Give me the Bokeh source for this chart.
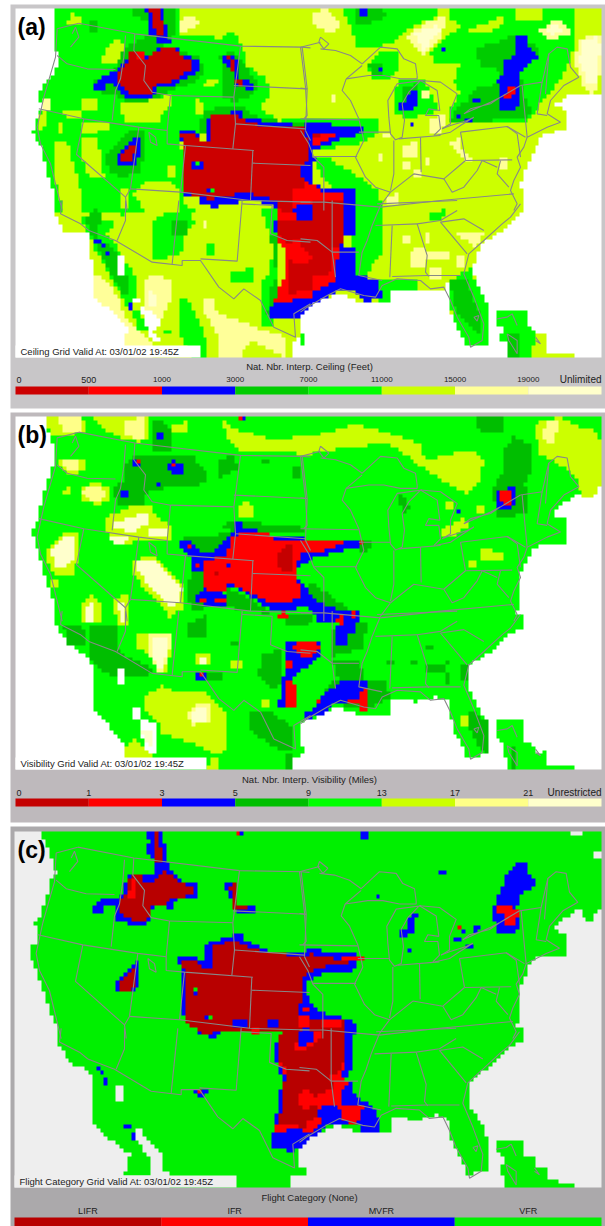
from bokeh.plotting import figure
from bokeh.embed import file_html
from bokeh.resources import INLINE
from bokeh.core.properties import value
from bokeh.models import Range1d
import numpy as np

# colour classes: 0 outside, 1..8 from lowest to highest class
COLORS = ["#FFFFFF", "#CC0000", "#FF0000", "#0000FF", "#00CC00", "#00FF00", "#CCFF00", "#FFFF99", "#FFFFCC"]
COLORS_B = ["#FFFFFF", "#C40000", "#FF0000", "#0000FF", "#00BE00", "#00FF00", "#CCFF00", "#FFFF88", "#FFFFCC"]
COLORS_C = ["#EEEEEE", "#B80000", "#FF0000", "#0000FF", "#00CC00", "#00F000", "#CCFF00", "#FFFF99", "#FFFFCC"]

# source frames for the digitised shapes: origin x, origin y, scale x, scale y
FRAMES = {"A1": (0, 0, 3, 3), "A2": (300, 0, 3, 3), "A3": (0, 200, 3, 3), "A4": (300, 200, 3, 3),
          "B1": (0, 410, 2.592, 3), "B2": (0, 615, 2.592, 3), "C1": (0, 825, 2.592, 3), "C2": (0, 1025, 2.592, 3)}

CEILING_REGIONS = [
 (6,"A1",[162,25,930,25,930,640,165,640,155,560,135,500,125,440,95,400,105,355,130,320,110,285,130,250,160,220,175,190,165,130]),
 (6,"A2",[0,25,905,25,905,270,890,285,800,285,755,320,795,325,795,390,730,400,690,470,660,550,675,640,0,640]),
 (6,"A3",[165,0,930,0,930,320,900,345,900,405,875,430,875,470,380,470,380,380,285,290,285,220,265,150,265,100,190,95,165,40]),
 (6,"A4",[0,0,675,0,660,40,600,95,540,130,515,205,540,270,565,320,565,380,550,430,500,440,500,410,465,370,445,320,445,240,430,270,350,270,270,275,270,310,190,310,135,285,80,290,20,320,0,340]),
 (6,"A4",[580,325,675,325,675,380,700,385,700,405,740,405,740,460,820,460,820,470,620,470,620,430,595,425,610,385,590,375]),
 (5,"A1",[162,25,535,25,535,100,640,110,650,125,690,85,720,130,735,160,735,190,800,235,805,290,780,320,830,360,930,355,930,380,620,380,590,400,540,395,555,640,165,640,155,560,135,500,125,440,95,400,105,355,130,320,110,285,130,250,160,220,175,190,165,130]),
 (5,"A2",[445,25,820,25,820,120,810,180,780,230,740,290,680,360,500,370,445,370,450,320,480,280,460,240,480,190,400,190,390,160,420,120,450,100,490,70,445,60]),
 (5,"A2",[125,25,405,25,405,50,330,80,290,120,240,140,170,140,150,80]),
 (5,"A2",[205,185,240,150,295,155,300,200,265,240,215,230,205,210]),
 (5,"A2",[290,240,375,235,385,275,420,320,380,345,330,350,280,345,280,310]),
 (5,"A2",[0,355,60,355,180,350,230,350,240,400,150,440,0,445]),
 (5,"A2",[40,470,90,470,125,500,180,530,230,570,240,630,150,630,60,520]),
 (5,"A3",[240,50,335,60,335,85,310,100,345,130,365,175,400,215,415,260,405,295,390,315,420,340,440,385,415,390,395,340,350,265,310,190,285,150,265,100]),
 (5,"A3",[190,0,250,0,250,30,190,30]),
 (5,"A3",[330,0,415,0,415,30,360,45]),
 (5,"A3",[460,60,500,30,560,30,580,65,550,110,540,165,460,180]),
 (5,"A3",[480,0,540,0,580,30,500,30]),
 (5,"A3",[620,130,645,130,645,165,620,165]),
 (5,"A3",[780,20,835,20,835,300,810,380,780,380,780,260,810,200,820,130]),
 (5,"A3",[690,210,755,205,765,245,690,245]),
 (5,"A3",[540,300,565,300,605,390,620,430,615,470,570,470,540,410]),
 (5,"A3",[485,390,510,390,510,405,485,405]),
 (5,"A3",[900,405,915,405,915,430,900,430]),
 (5,"A4",[150,0,250,0,250,160,210,190,200,240,150,220]),
 (5,"A4",[445,240,510,205,565,320,565,430,500,440,445,320]),
 (5,"A4",[230,240,310,230,350,235,350,270,230,275]),
 (5,"A4",[230,270,270,270,270,310,230,310]),
 (5,"A4",[580,325,675,325,675,380,700,385,700,405,715,405,715,430,690,430,690,470,620,470,620,430,595,425,610,385,590,375]),
 (5,"A4",[390,40,440,25,420,60,390,65]),
 (6,"A1",[300,190,300,170,345,115,365,115,370,150,355,190]),
 (6,"A1",[210,40,240,45,240,70,200,70]),
 (6,"A1",[240,300,295,300,295,325,240,325]),
 (6,"A1",[365,310,510,285,515,310,470,365,375,365,365,340]),
 (6,"A1",[190,325,260,340,240,355,190,345]),
 (6,"A1",[250,365,330,370,320,390,250,400]),
 (6,"A1",[115,350,135,330,135,380,115,400]),
 (6,"A1",[240,410,290,410,300,470,310,530,265,530,240,450]),
 (6,"A1",[170,365,190,365,190,395,170,395]),
 (6,"A1",[160,420,200,430,225,510,240,570,240,640,190,640,165,540]),
 (6,"A1",[440,540,500,540,540,575,540,640,440,640,400,580]),
 (6,"A1",[500,490,525,490,525,535,500,535]),
 (6,"A1",[365,565,385,565,385,620,365,620]),
 (6,"A1",[580,290,600,290,605,345,580,345]),
 (6,"A1",[620,240,650,240,640,260,600,260]),
 (6,"A2",[500,90,560,65,610,45,620,60,560,100,500,100]),
 (6,"A2",[650,25,730,25,730,60,650,60]),
 (7,"A1",[540,60,570,45,600,60,570,85,540,95]),
 (7,"A1",[130,300,145,300,145,325,130,325]),
 (7,"A2",[30,40,70,25,105,45,120,70,100,100,70,90,30,60]),
 (7,"A2",[310,110,370,70,425,45,435,70,420,110,370,165,340,140]),
 (7,"A2",[720,90,760,50,810,85,800,110,740,115]),
 (7,"A2",[835,120,880,100,905,110,905,200,880,285,855,265,820,190]),
 (7,"A2",[385,365,415,340,435,350,425,390,400,405,385,390]),
 (7,"A2",[300,440,350,420,355,470,300,470]),
 (7,"A2",[450,430,480,415,485,440,515,480,490,480,465,450]),
 (7,"A2",[100,285,108,285,108,310,95,310]),
 (7,"A2",[230,460,245,460,245,485,230,485]),
 (7,"A2",[310,485,325,485,325,510,310,510]),
 (7,"A2",[380,470,390,470,390,500,380,500]),
 (7,"A2",[340,505,365,510,360,525,340,525]),
 (7,"A2",[255,590,295,580,290,610,255,610]),
 (7,"A2",[600,475,625,475,625,510,600,510]),
 (7,"A2",[365,270,385,270,385,290,365,290]),
 (7,"A2",[245,405,270,400,270,415,245,415]),
 (7,"A3",[430,250,445,220,510,235,510,300,490,350,440,350,430,310]),
 (7,"A3",[282,220,300,220,350,285,380,360,420,400,450,430,460,470,375,470,380,380,285,290]),
 (7,"A3",[605,290,645,290,650,340,720,360,780,385,850,410,850,470,750,420,720,470,650,470,650,400,610,330]),
 (7,"A3",[605,60,620,60,620,85,605,85]),
 (7,"A4",[300,110,325,110,325,135,300,135]),
 (7,"A4",[330,150,370,140,370,205,325,205]),
 (7,"A4",[380,155,450,155,440,180,380,180]),
 (7,"A4",[470,90,560,90,520,145,500,115,470,110]),
 (7,"A4",[385,205,420,205,420,235,385,235]),
 (7,"A4",[380,100,390,100,390,125,380,125]),
 (7,"A4",[470,160,495,160,490,200,465,200]),
 (8,"A2",[340,100,410,70,420,90,370,150]),
 (8,"A2",[845,125,885,110,900,130,890,240,865,250,835,180]),
 (8,"A2",[740,85,770,70,790,90,750,105]),
 (8,"A3",[445,275,470,285,465,320,445,320]),
 (4,"A1",[370,150,400,125,470,100,480,130,590,170,610,200,600,235,520,270,470,290,440,305,390,305,340,285,310,280,280,270,280,240,340,210]),
 (4,"A1",[400,25,530,25,530,100,500,130,440,130,440,60,400,45]),
 (4,"A1",[265,65,295,60,295,95,265,95]),
 (4,"A1",[660,170,690,150,725,180,770,240,770,270,750,290,700,305,665,290,665,230]),
 (4,"A1",[310,470,400,385,430,385,430,460,420,510,370,530,330,520]),
 (4,"A1",[600,350,620,325,730,320,760,345,830,360,930,370,930,395,600,395]),
 (4,"A2",[160,25,250,25,255,50,200,70,160,70]),
 (4,"A2",[205,190,245,185,245,225,210,225]),
 (4,"A2",[300,265,350,250,350,320,300,330]),
 (4,"A2",[450,360,460,330,500,300,530,265,590,250,600,210,540,195,525,140,590,130,650,100,690,130,720,140,700,180,660,210,670,290,700,340,650,355,560,360,500,365]),
 (4,"A3",[255,60,290,25,310,60,285,90,300,130,340,140,350,180,385,230,390,280,370,290,330,220,300,165]),
 (4,"A3",[510,60,565,60,565,110,510,110]),
 (4,"A3",[810,110,835,110,835,320,800,340,810,270,830,230]),
 (4,"A4",[445,240,500,230,515,290,540,345,540,410,505,375,465,330]),
 (4,"A4",[620,395,650,395,660,470,620,470]),
 (6,"A4",[700,405,740,405,740,455,820,460,820,470,700,470]),
 (3,"A1",[345,215,380,170,385,150,430,150,435,170,480,140,530,140,540,160,580,175,595,185,590,218,550,235,525,245,520,258,465,260,460,285,440,300,390,297,360,285,350,260,340,255,310,245,310,270,282,270,282,245,310,220]),
 (3,"A1",[435,25,495,25,495,70,510,130,465,130,460,105,445,100,445,50]),
 (3,"A1",[672,165,700,165,712,190,712,230,765,250,765,268,700,262,695,210,672,190]),
 (3,"A1",[350,460,405,405,418,410,415,470,400,500,350,500]),
 (3,"A1",[535,395,580,392,600,420,615,420,615,350,680,340,695,325,722,325,725,350,765,350,790,365,930,375,930,640,850,640,800,610,740,600,650,620,640,620,600,610,590,590,550,585,550,435,535,420]),
 (3,"A2",[180,25,205,25,205,45,180,45]),
 (3,"A2",[418,138,432,138,432,152,418,152]),
 (3,"A2",[228,208,245,205,245,218,228,218]),
 (3,"A2",[325,268,350,270,350,312,335,325,298,325,298,312,320,312]),
 (3,"A2",[515,300,540,300,540,312,515,312]),
 (3,"A2",[472,338,485,338,485,352,472,352]),
 (3,"A2",[498,352,515,352,515,365,498,365]),
 (3,"A2",[325,365,338,365,338,378,325,378]),
 (3,"A2",[608,180,645,165,645,110,675,110,675,135,712,170,660,210,660,250,655,320,625,335,595,325,592,240,610,215]),
 (3,"A2",[25,365,185,380,185,400,110,420,80,435,50,445,0,430,0,380]),
 (3,"A2",[0,470,45,470,25,540,75,565,160,570,160,630,0,630]),
 (3,"A3",[820,60,850,60,850,290,930,290,930,320,900,350,810,350,810,320,825,295,835,270,850,230,850,130,835,130,835,100,820,100]),
 (3,"A4",[0,0,160,0,160,110,135,110,135,140,160,140,160,220,230,240,250,290,210,300,200,315,190,300,160,270,120,270,80,290,30,310,10,335,0,340]),
 (2,"A2",[610,295,620,265,645,258,645,280,630,298]),
 (2,"A2",[20,395,65,395,70,405,105,405,105,415,70,420,50,440,30,430]),
 (2,"A2",[150,395,160,395,160,405,150,405]),
 (2,"A2",[0,540,50,560,70,580,135,580,135,630,0,630]),
 (2,"A3",[835,20,930,0,930,290,820,310,830,270,850,230,850,140,835,130]),
 (2,"A4",[0,0,135,0,135,70,120,70,120,140,110,180,105,240,70,260,40,270,0,290]),
 (1,"A1",[350,220,385,185,385,155,430,155,435,175,480,145,525,145,540,165,575,180,578,215,545,218,525,240,500,245,465,245,450,285,400,285,360,260]),
 (2,"A1",[405,150,430,150,430,180,405,180]),
 (1,"A1",[445,25,475,25,485,60,495,110,465,110,458,60]),
 (1,"A1",[680,170,700,175,705,235,750,250,715,255,705,240,690,190]),
 (1,"A1",[362,462,400,425,405,440,400,485,365,485]),
 (1,"A1",[620,350,660,340,710,345,740,365,790,375,915,380,915,640,850,640,800,590,740,580,650,590,640,600,600,590,550,575,550,435,540,395,580,400,600,420,630,420,630,350]),
 (2,"A1",[875,570,915,570,915,640,875,640]),
 (3,"A1",[900,500,930,500,930,535,900,535]),
 (3,"A1",[915,385,930,385,930,460,915,460]),
 (3,"A1",[575,485,605,485,605,510,575,510]),
 (5,"A1",[580,487,592,487,592,500,580,500]),
 (3,"A1",[618,563,632,563,632,580,618,580]),
 (3,"A1",[700,578,740,578,740,592,700,592]),
 (5,"A1",[632,565,645,565,645,578,632,578]),
 (1,"A3",[835,60,930,60,930,120,860,125,835,100]),
 (1,"A3",[860,180,930,190,930,270,870,280]),
 (3,"A3",[880,20,930,10,930,55,890,55]),
 (1,"A4",[40,0,135,0,125,130,90,150,95,210,60,230,25,220,30,170,0,130,0,60,40,50]),
 (3,"A4",[0,10,40,10,40,55,0,55]),
 (3,"A3",[820,0,835,0,835,20,820,20]),
 (1,"A2",[0,380,15,400,30,480,0,490]),
 (1,"A2",[30,395,60,395,60,415,30,415]),
 (0,"A3",[350,165,375,165,375,220,350,220]),
 (0,"A3",[400,290,415,290,415,310,400,310]),
 (0,"A3",[415,315,470,345,480,370,460,390,460,405,485,425,460,430,440,390,430,350,415,335]),
 (3,"A3",[285,115,298,115,298,128,285,128]),
 (3,"A3",[298,128,310,128,310,138,298,138]),
 (3,"A3",[310,155,322,155,322,165,310,165]),
 (3,"A3",[390,312,402,312,402,325,390,325]),
]

VISIBILITY_REGIONS = [
 (5,"B1",[115,18,1560,18,1560,210,1535,268,1510,268,1500,240,1430,310,1465,325,1465,400,1380,410,1345,490,1345,570,1335,630,145,630,135,560,115,500,100,430,80,365,95,330,105,285,120,220,135,165,145,140,125,65]),
 (5,"B2",[145,0,1360,0,1360,30,1320,60,1270,110,1215,150,1215,220,1240,280,1265,320,1265,410,1210,435,1205,400,1170,340,1165,260,1130,245,1080,260,1010,250,1010,300,975,300,945,300,870,275,830,300,790,315,775,340,775,395,790,400,790,420,755,425,755,462,325,462,330,400,245,285,245,170,225,125,165,70,145,30]),
 (5,"B2",[1280,315,1360,315,1360,380,1385,395,1385,425,1420,400,1420,450,1485,450,1485,462,1310,462,1310,430,1300,380,1280,350]),
 (6,"B1",[575,30,620,60,700,85,800,80,880,55,925,40,980,60,1060,90,1090,100,1100,150,1180,125,1230,120,1255,150,1240,210,1210,250,1150,215,1100,175,1040,125,1000,100,900,110,800,130,700,125,620,120,590,85]),
 (6,"B1",[1385,40,1450,18,1480,40,1540,60,1560,100,1560,210,1535,268,1510,268,1490,200,1445,160,1395,130]),
 (6,"B1",[115,18,215,18,220,60,170,80,130,70]),
 (6,"B1",[240,18,380,18,385,80,360,95,320,90,250,40]),
 (6,"B1",[445,40,480,35,480,65,445,65]),
 (6,"B1",[205,235,240,215,280,230,280,270,250,285,215,270]),
 (6,"B1",[155,150,215,140,220,180,180,195,155,170]),
 (6,"B1",[165,235,185,230,185,255,165,255]),
 (6,"B1",[245,165,255,165,255,175,245,175]),
 (6,"B1",[270,320,340,290,385,285,415,330,440,340,440,385,365,385,330,405,280,390]),
 (6,"B1",[115,430,160,370,205,370,205,420,190,490,150,500,115,450]),
 (6,"B1",[340,450,395,435,440,490,475,520,475,590,440,620,420,590,385,550,345,490]),
 (6,"B1",[210,580,240,555,265,590,265,630,210,630]),
 (6,"B1",[290,565,335,555,335,630,300,630]),
 (6,"B1",[615,290,640,270,660,305,660,325,615,325]),
 (6,"B1",[1140,355,1200,320,1225,345,1175,375,1145,375]),
 (6,"B1",[1150,270,1175,270,1175,300,1150,300]),
 (6,"B1",[1230,285,1250,285,1250,305,1230,305]),
 (6,"B1",[1250,410,1300,430,1300,445,1240,445]),
 (6,"B1",[1210,445,1230,445,1230,470,1210,470]),
 (6,"B1",[130,505,150,505,150,530,130,530]),
 (6,"B2",[375,240,420,210,470,235,540,235,590,300,590,385,570,415,550,410,490,380,420,355,410,330,375,280]),
 (6,"B2",[545,430,570,430,570,462,535,462]),
 (6,"B2",[325,400,350,370,370,400,395,425,395,462,325,462]),
 (6,"B2",[675,250,695,250,695,275,675,275]),
 (6,"B2",[1190,290,1220,305,1220,330,1190,330]),
 (6,"B2",[355,60,420,50,440,80,440,120,430,150,440,175,405,170,385,120,350,90]),
 (6,"B2",[500,115,545,115,545,150,505,150]),
 (6,"B2",[595,140,625,140,625,155,595,155]),
 (6,"B2",[205,0,250,0,245,15,215,15]),
 (6,"B2",[300,0,335,0,335,30,305,30]),
 (7,"B1",[150,18,210,18,210,65,160,65]),
 (7,"B1",[320,35,370,20,370,85,325,80]),
 (7,"B1",[1415,30,1450,30,1430,100,1405,90]),
 (7,"B1",[215,240,240,225,272,240,270,265,250,275,220,265]),
 (7,"B1",[160,150,205,150,205,180,180,185,160,165]),
 (7,"B2",[480,295,510,265,545,265,545,320,500,330]),
 (7,"B2",[385,60,440,55,440,100,425,170,405,170,385,115]),
 (8,"B1",[290,340,380,305,385,335,340,370,295,350]),
 (8,"B1",[385,355,430,355,430,380,385,380]),
 (8,"B1",[285,375,340,380,320,400,285,395]),
 (8,"B1",[130,425,165,380,195,380,190,440,165,470,145,470]),
 (8,"B1",[350,450,395,445,430,490,470,530,465,580,440,590,390,530,355,480]),
 (8,"B1",[220,585,245,575,245,630,220,630]),
 (8,"B1",[305,580,320,570,320,630,310,630]),
 (8,"B2",[390,65,435,60,435,100,420,165,408,165,390,115]),
 (8,"B2",[512,120,535,120,535,145,512,145]),
 (8,"B2",[490,295,515,270,540,270,540,315,500,325]),
 (4,"B1",[320,170,345,130,400,135,500,140,530,180,530,220,440,230,380,240,370,290,300,280,290,230,320,210]),
 (4,"B1",[400,20,450,60,440,120,395,120,395,55]),
 (4,"B1",[570,150,600,130,620,170,570,200]),
 (4,"B1",[675,150,695,150,695,160,675,160]),
 (4,"B1",[760,175,780,175,775,200,760,200]),
 (4,"B1",[1230,18,1300,18,1300,60,1240,60]),
 (4,"B1",[1300,130,1330,80,1370,100,1380,160,1360,220,1370,310,1290,320,1270,240,1310,170]),
 (4,"B1",[575,350,600,330,780,350,790,370,610,370]),
 (4,"B1",[470,380,600,370,550,430,470,420]),
 (4,"B1",[495,480,530,480,580,580,500,600,480,560]),
 (4,"B1",[590,530,640,560,680,590,700,610,640,600,590,590]),
 (4,"B1",[800,510,920,610,860,620,780,560]),
 (4,"B1",[1030,240,1060,290,1040,320]),
 (4,"B1",[930,390,975,400,950,420,930,420]),
 (4,"B2",[165,35,215,30,220,90,175,90]),
 (4,"B2",[230,35,300,35,305,100,340,130,405,170,380,180,280,180,230,125]),
 (4,"B2",[480,30,530,0,535,60,490,70]),
 (4,"B2",[675,120,730,100,730,200,700,220,670,180]),
 (4,"B2",[600,75,620,75,620,90,600,90]),
 (4,"B2",[860,40,920,10,950,20,940,100,860,120]),
 (4,"B2",[860,140,930,140,940,190,880,200]),
 (4,"B2",[820,260,860,190,1000,190,1010,250,950,280]),
 (4,"B2",[650,290,690,280,760,340,760,400,720,400,650,350]),
 (4,"B2",[735,0,810,0,800,30,735,30]),
 (4,"B2",[500,170,580,170,580,200,500,200]),
 (4,"B2",[1000,140,1020,140,1020,150,1000,150]),
 (4,"B2",[1060,140,1080,140,1080,150,1060,150]),
 (4,"B2",[1100,150,1160,140,1150,170,1100,170]),
 (4,"B2",[1100,90,1125,90,1125,100,1100,100]),
 (4,"B2",[1150,170,1165,170,1165,205,1150,205]),
 (4,"B2",[1190,150,1210,150,1210,200,1190,200]),
 (4,"B2",[735,425,755,415,755,462,735,462]),
 (4,"B2",[1215,280,1265,320,1265,410,1250,410,1215,340]),
 (4,"B2",[1320,395,1340,395,1340,462,1320,462]),
 (3,"B1",[405,68,428,68,428,93,405,93]),
 (3,"B1",[338,148,362,148,358,175,338,175]),
 (3,"B1",[440,150,452,150,452,162,475,162,475,188,440,188,428,172,440,162]),
 (3,"B1",[405,215,417,215,417,228,405,228]),
 (3,"B1",[315,240,337,240,337,268,315,268]),
 (3,"B1",[1280,240,1335,230,1335,280,1320,297,1290,297]),
 (3,"B1",[1185,297,1195,297,1195,308,1185,308]),
 (3,"B1",[615,18,635,18,635,26,615,26]),
 (3,"B1",[465,392,490,392,520,430,545,425,570,400,600,370,605,335,625,335,630,350,660,350,665,370,705,375,790,385,840,392,930,392,930,415,890,420,860,430,815,435,800,460,770,470,770,500,800,545,830,580,880,600,930,605,930,630,820,630,815,610,790,590,745,600,700,600,650,560,600,525,580,545,590,590,560,590,510,580,500,560,540,520,525,480,500,485,490,440,465,415]),
 (3,"B2",[735,75,825,75,825,120,800,150,770,175,755,190,770,270,720,275,735,170]),
 (3,"B2",[875,20,915,10,915,50,895,50,895,85,872,85]),
 (3,"B2",[820,250,870,210,890,195,955,195,955,285,935,290,925,260,870,260,830,300,790,310,790,290,820,275]),
 (3,"B2",[500,170,535,170,535,195,510,195]),
 (3,"B2",[815,0,835,0,835,15,815,15]),
 (3,"B2",[870,0,915,0,915,10,870,10]),
 (2,"B1",[350,148,358,148,358,160,350,160]),
 (2,"B1",[442,162,452,162,452,174,442,174]),
 (2,"B1",[1290,242,1325,242,1325,280,1300,280]),
 (2,"B1",[615,18,625,18,625,26,615,26]),
 (2,"B1",[480,402,490,402,490,415,480,415]),
 (2,"B1",[520,480,525,455,580,435,600,385,620,365,700,372,720,385,790,390,880,392,880,405,835,420,800,420,775,440,765,470,770,500,780,555,750,575,700,575,660,555,620,530,595,515,580,540,520,535]),
 (3,"B1",[705,375,790,385,790,392,710,388]),
 (3,"B1",[775,430,800,420,800,435,780,445,775,465]),
 (3,"B1",[582,460,592,460,592,470,582,470]),
 (2,"B1",[515,565,530,565,530,580,515,580]),
 (2,"B1",[560,565,590,565,590,580,560,580]),
 (2,"B1",[500,462,510,462,510,470,500,470]),
 (2,"B1",[930,392,940,392,940,402,930,402]),
 (2,"B1",[880,392,892,392,892,402,880,402]),
 (2,"B1",[905,605,915,605,915,620,905,620]),
 (2,"B1",[730,605,740,605,740,620,730,620]),
 (2,"B1",[870,625,885,625,885,630,870,630]),
 (1,"B1",[715,430,740,400,755,405,755,480,725,480]),
 (1,"B1",[555,485,570,485,570,500,555,500]),
 (2,"B2",[755,90,790,75,825,85,825,105,805,125,780,125,770,105]),
 (2,"B2",[740,195,765,205,770,275,735,275,740,245]),
 (2,"B2",[875,0,885,0,885,30,875,30]),
 (2,"B2",[720,0,745,0,745,5,720,5]),
 (2,"B2",[820,250,830,250,830,262,820,262]),
 (2,"B2",[893,248,930,248,940,220,950,220,950,285,935,285,925,265,895,260]),
 (2,"B2",[742,140,755,140,755,155,742,155]),
 (2,"B2",[510,165,525,170,520,180,510,175]),
 (0,"B2",[300,165,325,165,325,210,300,210]),
 (0,"B2",[345,275,360,275,360,305,345,305]),
 (0,"B2",[360,305,405,330,405,380,395,425,375,400,360,340]),
 (8,"B2",[365,345,390,345,395,380,385,395,375,380]),
]

CATEGORY_REGIONS = [
 (5,"C1",[100,18,1560,18,1560,235,1535,285,1510,280,1500,245,1430,310,1465,325,1465,390,1380,400,1345,490,1345,570,1335,615,150,615,130,560,110,490,95,440,80,405,80,360,100,350,90,290,105,270,120,215,130,165,145,150,125,65]),
 (5,"C2",[150,0,1360,0,1360,40,1325,65,1270,120,1215,175,1215,240,1245,290,1265,340,1265,435,1210,450,1205,420,1170,350,1165,290,1130,265,1080,285,1010,275,1010,325,975,325,945,325,870,300,830,320,790,335,775,360,775,425,790,425,790,448,755,448,755,487,440,487,440,440,415,435,415,385,360,310,345,300,345,330,390,400,390,450,322,450,335,385,260,320,240,290,240,170,230,130,185,120,150,55]),
 (5,"C2",[1280,340,1360,340,1360,395,1385,395,1385,425,1420,425,1420,465,1485,475,1485,487,1310,487,1310,460,1290,440,1305,400,1285,375]),
 (0,"C1",[1480,18,1510,18,1510,25,1480,25]),
 (0,"C1",[1535,80,1560,80,1560,100,1535,100]),
 (0,"C2",[300,175,322,175,322,232,300,232]),
 (3,"C1",[372,18,415,18,428,60,428,110,440,115,440,135,460,150,470,165,495,175,510,175,510,215,475,215,450,235,450,255,425,255,425,240,395,245,390,270,380,298,335,298,330,285,300,285,300,235,265,240,265,270,240,270,240,245,265,220,300,215,320,200,325,150,395,150,400,125,395,95,380,90,385,40]),
 (3,"C1",[578,165,600,165,615,180,615,240,660,245,660,268,615,268,600,240,590,190,578,190]),
 (3,"C1",[300,505,300,465,345,410,358,410,358,475,345,505]),
 (3,"C1",[460,395,500,395,535,415,535,355,570,340,600,340,605,325,625,325,630,350,670,355,680,375,740,380,790,385,795,370,825,370,830,380,860,380,890,380,925,380,925,395,950,400,930,405,915,435,870,435,830,445,810,465,795,470,795,515,830,560,880,575,915,585,925,615,510,615,470,570,470,440]),
 (3,"C1",[1030,320,1050,310,1060,270,1080,270,1075,315,1045,335,1035,335]),
 (3,"C1",[1055,368,1068,368,1068,380,1055,380]),
 (3,"C1",[1137,135,1150,135,1150,148,1137,148]),
 (3,"C1",[975,205,988,205,988,215,975,215]),
 (3,"C1",[930,18,950,18,950,38,930,38]),
 (3,"C1",[615,18,635,18,635,25,615,25]),
 (3,"C1",[1280,245,1300,180,1310,150,1340,108,1360,108,1365,145,1390,165,1390,180,1345,205,1340,250,1345,310,1335,325,1290,325,1280,280]),
 (3,"C1",[1195,312,1208,312,1208,325,1195,325]),
 (3,"C1",[1222,300,1245,300,1245,312,1222,312]),
 (3,"C1",[1222,312,1232,312,1232,325,1222,325]),
 (3,"C1",[1172,340,1195,340,1195,352,1172,352]),
 (3,"C1",[1208,354,1230,354,1230,368,1208,368]),
 (3,"C2",[510,0,570,0,565,25,555,38,545,38,540,25,510,25]),
 (3,"C2",[640,0,695,0,695,10,640,10]),
 (3,"C2",[710,70,730,30,735,0,925,0,925,25,915,30,915,125,895,165,915,175,920,215,955,235,975,260,985,290,975,325,945,325,925,300,880,300,850,300,825,325,755,380,695,360,710,310,720,240,730,160,715,105]),
 (2,"C1",[880,395,945,395,945,405,880,405]),
 (2,"C1",[855,405,880,405,880,420,855,420]),
 (2,"C1",[1290,245,1325,245,1325,255,1345,255,1335,295,1305,295,1305,270,1290,265]),
 (2,"C1",[1185,300,1195,300,1195,310,1185,310]),
 (2,"C1",[615,18,625,18,625,25,615,25]),
 (2,"C2",[718,55,730,30,770,0,895,0,895,110,880,150,905,175,885,190,880,240,910,240,940,245,930,270,930,285,915,300,880,280,850,285,840,285,810,325,760,310,710,325,735,235,740,150,718,105]),
 (1,"C1",[335,150,370,150,372,170,400,165,425,135,445,150,460,170,495,185,495,210,450,215,420,240,395,235,380,285,345,285,305,265,310,225,330,200]),
 (1,"C1",[395,18,405,18,415,70,425,110,400,110,395,70]),
 (2,"C1",[395,25,402,25,402,50,395,50]),
 (2,"C1",[340,160,345,160,345,215,330,215]),
 (1,"C1",[592,178,612,175,612,235,650,245,625,255,605,255,600,210]),
 (1,"C1",[313,500,313,465,345,425,352,430,350,475,340,500]),
 (1,"C1",[475,400,495,400,520,425,545,425,550,355,610,350,680,378,790,395,800,385,860,400,925,405,860,420,830,425,800,440,785,460,780,520,770,570,830,580,895,585,895,615,510,615,475,580,480,440,465,420]),
 (2,"C1",[880,395,945,395,945,405,880,405]),
 (2,"C1",[770,570,800,570,800,600,770,600]),
 (2,"C1",[785,545,800,545,800,558,785,558]),
 (2,"C1",[830,585,880,585,880,600,830,600]),
 (3,"C1",[535,570,545,570,545,585,535,585]),
 (3,"C1",[600,585,640,585,640,600,600,600]),
 (3,"C1",[695,585,720,585,720,600,695,600]),
 (3,"C1",[780,515,800,515,800,540,780,540]),
 (3,"C1",[497,490,512,490,512,515,497,515]),
 (5,"C1",[498,490,510,490,510,503,498,503]),
 (5,"C1",[542,570,555,570,555,583,542,583]),
 (1,"C2",[735,0,770,0,770,15,765,70,790,70,825,50,835,0,890,0,890,100,875,145,855,140,860,190,815,215,800,190,780,190,770,240,790,250,825,235,820,275,790,290,790,310,760,300,720,300,730,240,740,130,718,100,718,60]),
 (1,"C2",[515,0,555,0,555,25,520,25]),
 (2,"C2",[555,0,565,0,565,10,555,10]),
 (2,"C2",[650,10,670,10,670,25,650,25]),
 (3,"C2",[715,0,725,0,725,10,715,10]),
 (3,"C2",[770,15,810,15,810,50,770,65]),
 (3,"C2",[780,0,800,0,800,12,780,12]),
 (3,"C2",[825,250,850,240,875,245,885,265,880,285,845,285,825,275]),
 (3,"C2",[890,215,905,215,905,230,890,230]),
 (3,"C2",[243,122,255,122,255,135,243,135]),
 (3,"C2",[255,137,265,137,265,150,255,150]),
 (3,"C2",[265,163,277,163,277,176,265,176]),
 (3,"C2",[322,300,335,300,335,312,322,312]),
 (3,"C2",[335,326,347,326,347,340,335,340]),
 (3,"C2",[498,190,540,190,530,215,510,215]),
 (2,"C2",[510,188,522,188,522,200,510,200]),
 (3,"C2",[940,313,950,313,950,326,940,326]),
 (3,"C2",[975,313,987,313,987,326,975,326]),
]

# state, coast and lake outlines
OUTLINES = [
 ("A1",[235,68,170,85,165,170,130,290,110,380,120,430,150,490,185,630]),
 ("A1",[215,100,225,80,235,110,210,140]),
 ("A1",[235,68,403,100,720,137,905,140,930,142]),
 ("A1",[170,165,200,190,260,205,345,207]),
 ("A1",[375,105,370,170,360,235,345,270,335,360]),
 ("A1",[115,325,250,355,415,380,500,390]),
 ("A1",[403,100,400,150,435,195,430,240,455,275,510,285]),
 ("A1",[510,285,700,290]),
 ("A1",[510,285,500,390,500,430,555,435,760,450]),
 ("A1",[555,435,540,575]),
 ("A1",[720,137,700,290,705,370,697,445]),
 ("A1",[700,255,920,265]),
 ("A1",[905,140,920,265,915,390]),
 ("A1",[705,370,915,385]),
 ("A1",[757,450,750,600]),
 ("A1",[757,488,930,495]),
 ("A1",[415,380,390,565,375,590,380,630]),
 ("A1",[250,355,228,462,375,590]),
 ("A1",[390,565,540,575,750,600,930,605]),
 ("A1",[445,395,465,410,470,435,450,425,445,395]),
 ("A1",[915,390,930,420]),
 ("A3",[185,0,180,40,240,70,265,90]),
 ("A3",[265,90,345,120,455,185,545,195,545,180,600,180,655,260,700,295,730,265,780,300,820,380,885,410,880,340,930,310]),
 ("A3",[375,0,375,60,350,120]),
 ("A3",[535,0,515,190]),
 ("A3",[725,0,710,182,600,175]),
 ("A3",[725,10,815,15,810,100,860,120,930,125]),
 ("A2",[0,140,60,125]),
 ("A2",[60,110,85,130,70,145,55,125,60,110]),
 ("A2",[60,145,105,150,150,165,185,190,240,140,290,145,310,175,345,190,350,225]),
 ("A2",[137,235,185,195]),
 ("A2",[137,235,205,225,250,225,300,235,350,235,350,225]),
 ("A2",[365,240,290,250,262,300,265,350,270,400,285,418,305,410,312,360,305,310,325,275,360,240]),
 ("A2",[360,240,410,270,418,330,385,325,375,345,415,345,420,385,400,405]),
 ("A2",[360,240,420,245,470,280,450,330,450,370,425,385]),
 ("A2",[405,405,450,395,480,375,520,350,500,360,450,375,425,385]),
 ("A2",[490,340,570,305,600,290,570,310,510,325,490,340]),
 ("A2",[600,290,660,255]),
 ("A2",[660,255,725,245,745,160,770,140,800,145,810,200,835,230,790,255,750,300,740,340,780,365,740,380,680,410,670,440,650,470,660,500,640,540,630,570,650,610,640,630]),
 ("A2",[600,480,590,520,625,560]),
 ("A2",[665,255,675,360,680,410]),
 ("A2",[725,245,710,340,740,345]),
 ("A2",[745,160,735,280]),
 ("A2",[480,395,620,378,675,410]),
 ("A2",[495,480,635,478]),
 ("A2",[480,395,495,480]),
 ("A2",[620,378,650,400,660,470]),
 ("A2",[360,410,362,515]),
 ("A2",[280,420,280,520,270,570]),
 ("A2",[295,415,420,405]),
 ("A2",[270,575,340,520,430,535,495,480]),
 ("A2",[430,535,455,575,490,560,530,510,545,480,590,500]),
 ("A2",[240,620,420,600,640,580]),
 ("A2",[40,468,170,468]),
 ("A2",[0,355,175,358]),
 ("A2",[137,235,125,270,150,300,175,355,190,420,165,470,195,530,225,560,270,575,240,615]),
 ("A2",[175,395,270,395]),
 ("A2",[0,390,25,430,40,470,70,500,70,630]),
 ("A2",[0,605,70,605,240,620]),
 ("A2",[0,140,15,260,20,345,10,355]),
 ("A2",[0,263,20,265]),
 ("A4",[0,335,20,320,80,285,120,265,190,285,225,290,245,255,290,235,360,240,390,265,430,260,450,300,470,350,505,410,510,440,545,420,550,370,520,290,490,220,505,160,550,120,605,70,630,50,660,10]),
 ("A4",[95,0,95,155,105,230]),
 ("A4",[95,155,175,155]),
 ("A4",[240,15,215,75,200,120,185,155,175,225,245,240]),
 ("A4",[225,75,350,70]),
 ("A4",[230,10,470,0]),
 ("A4",[275,75,268,230]),
 ("A4",[350,70,380,165,375,215,385,228]),
 ("A4",[275,228,380,225,480,225]),
 ("A4",[420,65,500,160]),
 ("A4",[420,65,490,55,550,90]),
 ("A4",[350,70,420,60,470,30]),
 ("A4",[520,350,535,345,530,362,520,350]),
 ("A4",[590,355,620,350,635,340,650,375]),
 ("A4",[620,400,650,420,650,460,625,420,620,400]),
 ("A4",[705,410,720,430,705,420]),
 ("A4",[0,115,50,120,95,155]),
]

LEGEND_A_LABELS = ["0", "500", "1000", "3000", "7000", "11000", "15000", "19000"]
LEGEND_B_LABELS = ["0", "1", "3", "5", "9", "13", "17", "21"]
LEGEND_C_LABELS = ["LIFR", "IFR", "MVFR", "VFR"]
LEGEND_C_CLASSES = [1, 2, 3, 5]

PANELS = [
 dict(tag="(a)", frame=(10, 4, 605, 408), fc="#C8C6C8", map=(15, 8, 601, 357), regions=CEILING_REGIONS, colors=COLORS,
      caption="Ceiling Grid Valid At: 03/01/02 19:45Z", cap_r=200, title="Nat. Nbr. Interp. Ceiling (Feet)",
      ty=366, ly=379, bar=(386, 394), labels=LEGEND_A_LABELS, last="Unlimited", off=0, s=1.0, dx=0, tagy=26),
 dict(tag="(b)", frame=(10, 412, 605, 822), fc="#BEB9BC", map=(15, 416, 601, 769), regions=VISIBILITY_REGIONS, colors=COLORS_B,
      caption="Visibility Grid Valid At: 03/01/02 19:45Z", cap_r=206, title="Nat. Nbr. Interp. Visibility (Miles)",
      ty=779, ly=792, bar=(798, 806), labels=LEGEND_B_LABELS, last="Unrestricted", off=409, s=1.0093, dx=0, tagy=434),
 dict(tag="(c)", frame=(10, 826, 605, 1226), fc="#ABA9AB", map=(14, 831, 601, 1187), regions=CATEGORY_REGIONS, colors=COLORS_C,
      caption="Flight Category Grid Valid At: 03/01/02 19:45Z", cap_r=236, title="Flight Category (None)",
      ty=1197, ly=1210, bar=(1217, 1226), labels=LEGEND_C_LABELS, last=None, off=824, s=1.0216, dx=-1, tagy=849),
]

FONT = value("Liberation Sans")
CELL = 3.9


def to_page(frame, flat):
    ox, oy, sx, sy = FRAMES[frame]
    pts = np.array(flat, dtype=float).reshape(-1, 2)
    return ox + pts[:, 0] / sx, oy + pts[:, 1] / sy


def inside(px, py, xs, ys):
    hit = np.zeros(px.shape, dtype=bool)
    n = len(xs)
    for i in range(n):
        x0, y0, x1, y1 = xs[i], ys[i], xs[(i + 1) % n], ys[(i + 1) % n]
        if y0 == y1:
            continue
        cond = (y0 > py) != (y1 > py)
        hit ^= cond & (px < x0 + (py - y0) * (x1 - x0) / (y1 - y0))
    return hit


def hex_rgba(c):
    return (int(c[1:3], 16) | int(c[3:5], 16) << 8 | int(c[5:7], 16) << 16 | 255 << 24)


p = figure(width=605, height=1226, x_range=Range1d(0, 605), y_range=Range1d(1226, 0),
           output_backend="svg", toolbar_location=None, min_border=0, outline_line_color=None,
           background_fill_color="#FFFFFF", border_fill_color="#FFFFFF")
p.axis.visible = False
p.grid.visible = False

for P in PANELS:
    L, T, R, B = P["frame"]
    p.quad(left=[L], right=[R], top=[T], bottom=[B], fill_color=P["fc"], line_color=None)
    mx0, my0, mx1, my1 = P["map"]
    ncol, nrow = int(round((mx1 - mx0) / CELL)), int(round((my1 - my0) / CELL))
    cx = mx0 + (np.arange(ncol) + 0.5) * (mx1 - mx0) / ncol
    cy = my0 + (np.arange(nrow) + 0.5) * (my1 - my0) / nrow
    gx, gy = np.meshgrid(cx, cy)
    grid = np.zeros((nrow, ncol), dtype=int)
    for level, frame, flat in P["regions"]:
        xs, ys = to_page(frame, flat)
        grid[inside(gx, gy, xs, ys)] = level
    lut = np.array([hex_rgba(c) for c in P["colors"]], dtype=np.uint32)
    img = lut[grid[::-1]]
    # with the reversed y range the image grows upward from its y and is stored bottom row first
    p.image_rgba(image=[img], x=[mx0], y=[my1], dw=[mx1 - mx0], dh=[my1 - my0], dw_units="data", dh_units="data",
                 anchor="top_left", origin="top_left")
    for frame, flat in OUTLINES:
        xs, ys = to_page(frame, flat)
        p.line(xs + P["dx"], ys + P["off"] + (ys - 23) * (P["s"] - 1), line_color="#888888", line_width=1.1)
    # caption box, tag, legend
    p.quad(left=[mx0], right=[P["cap_r"]], top=[my1 - 12], bottom=[my1], fill_color=P["colors"][0] if P["tag"] == "(c)" else "#FFFFFF", line_color=None)
    p.text(x=[mx0 + 5], y=[my1 - 6], text=[P["caption"]], text_font=FONT, text_font_size="9.5px",
           text_baseline="middle", text_color="#222222")
    p.text(x=[17], y=[P["tagy"]], text=[P["tag"]], text_font=FONT, text_font_size="23px", text_font_style="bold",
           text_baseline="middle", text_color="#000000")
    p.text(x=[309], y=[P["ty"]], text=[P["title"]], text_font=FONT, text_font_size="9.5px", text_align="center",
           text_baseline="middle", text_color="#222222")
    labels = P["labels"]
    n = len(labels)
    w = (mx1 - mx0) / n
    y0, y1 = P["bar"]
    classes = LEGEND_C_CLASSES if n == 4 else list(range(1, 9))
    p.quad(left=[mx0 + i * w for i in range(n)], right=[mx0 + (i + 1) * w for i in range(n)], top=[y0] * n, bottom=[y1] * n,
           fill_color=[P["colors"][c] for c in classes], line_color=None)
    if n == 4:
        xs = [mx0 + (i + 0.5) * w for i in range(n)]
    else:
        xs = [mx0 + 1] + [mx0 + i * w for i in range(1, n)]
    for i, (xx, lab) in enumerate(zip(xs, labels)):
        p.text(x=[xx], y=[P["ly"]], text=[lab], text_font=FONT, text_font_size="9px" if len(lab) < 4 or n == 4 else "8px",
               text_align="left" if (n == 8 and i == 0) else "center", text_baseline="middle", text_color="#222222")
    if P["last"]:
        p.text(x=[601], y=[P["ly"]], text=[P["last"]], text_font=FONT, text_font_size="10px", text_align="right",
               text_baseline="middle", text_color="#222222")

open("out.html", "w").write(file_html(p, INLINE))
